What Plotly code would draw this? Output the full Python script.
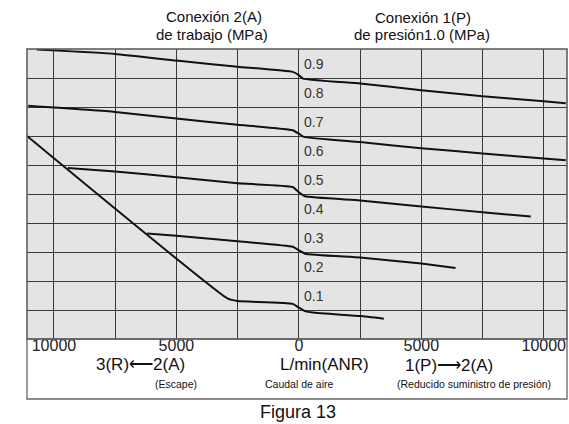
import plotly.graph_objects as go

# ---- data (x: air flow L/min(ANR), negative = exhaust 2(A)->3(R); y: outlet pressure MPa)
set_pressures = ["0.9", "0.7", "0.5", "0.3", "0.1"]

x_09 = [-10700, -7500, -5000, -2500, -250, 0, 170, 2500, 5000, 7500, 10000, 10900]
y_09 = [0.998, 0.983, 0.960, 0.939, 0.921, 0.910, 0.898, 0.881, 0.858, 0.837, 0.820, 0.813]

x_07 = [-11050, -7500, -5000, -2500, -250, 0, 200, 2500, 5000, 7500, 10000, 10900]
y_07 = [0.804, 0.783, 0.760, 0.739, 0.720, 0.708, 0.697, 0.679, 0.658, 0.640, 0.622, 0.616]

x_05 = [-9430, -7500, -5000, -2500, -250, 0, 250, 2500, 5000, 7500, 9470]
y_05 = [0.590, 0.578, 0.558, 0.537, 0.524, 0.506, 0.492, 0.478, 0.457, 0.437, 0.422]

x_03 = [-6200, -5000, -2500, -250, 0, 250, 2500, 5000, 6400]
y_03 = [0.364, 0.356, 0.337, 0.318, 0.306, 0.294, 0.281, 0.260, 0.245]

x_01 = [-11100, -2900, -2500, -250, 0, 250, 570, 2500, 3470]
y_01 = [0.700, 0.139, 0.131, 0.121, 0.108, 0.096, 0.091, 0.079, 0.070]

tick_vals = [-10000, -5000, 0, 5000, 10000]
tick_text = ["10000", "5000", "0", "5000", "10000"]
level_labels = ["0.1", "0.2", "0.3", "0.4", "0.5", "0.6", "0.7", "0.8", "0.9"]
level_values = [0.1, 0.2, 0.3, 0.4, 0.5, 0.6, 0.7, 0.8, 0.9]

curves = [(x_09, y_09), (x_07, y_07), (x_05, y_05), (x_03, y_03), (x_01, y_01)]

# ---- layout geometry (pixels)
W, H = 569, 424
L, R, T, B = 27, 567, 49, 339
FONT = "Liberation Sans, Arial, sans-serif"

def px(xp):
    return (xp - L) / (R - L)

def py(yp):
    return (B - yp) / (B - T)

fig = go.Figure()
for name, (xs, ys) in zip(set_pressures, curves):
    fig.add_trace(go.Scatter(x=xs, y=ys, mode="lines", name=name,
                             line=dict(color="#111111", width=2, shape="spline", smoothing=0.4),
                             showlegend=False, hoverinfo="skip"))

annotations = []
for lab, v in zip(level_labels, level_values):
    annotations.append(dict(x=0, y=v + 0.047, xref="x", yref="y", text=lab, showarrow=False,
                            xanchor="left", yanchor="middle", xshift=3,
                            font=dict(family=FONT, size=14, color="#333333")))

def txt(text, xc, yc, size, color="#111111"):
    annotations.append(dict(x=px(xc), y=py(yc), xref="paper", yref="paper", text=text,
                            showarrow=False, xanchor="center", yanchor="middle",
                            font=dict(family=FONT, size=size, color=color)))

txt("Conexión 2(A)", 214, 16, 15)
txt("de trabajo (MPa)", 212, 35, 15)
txt("Conexión 1(P)", 423, 17, 15)
txt("de presión1.0 (MPa)", 422, 35, 15)
txt("3(R)⟵2(A)", 140, 364, 17)
txt("L/min(ANR)", 324, 364, 17)
txt("1(P)⟶2(A)", 449, 365, 17)
txt("(Escape)", 176, 384, 10.5)
txt("Caudal de aire", 299, 384, 10.5)
txt("(Reducido suministro de presión)", 474, 384, 10.5)
txt("Figura 13", 298, 412, 18)

shapes = [
    dict(type="rect", xref="paper", yref="paper", x0=0, x1=1, y0=0, y1=1,
         line=dict(color="#555555", width=1.5)),
    dict(type="rect", xref="paper", yref="paper", x0=0, x1=1, y0=py(399), y1=0,
         line=dict(color="#666666", width=1.3)),
]

fig.update_layout(
    width=W, height=H,
    margin=dict(l=L, r=W - R, t=T, b=H - B),
    paper_bgcolor="white", plot_bgcolor="#e4e4e4",
    font=dict(family=FONT),
    xaxis=dict(range=[-11100, 10950], showgrid=True,
               gridcolor="#3a3a3a", gridwidth=1.3, zeroline=False,
               tickmode="array", tickvals=tick_vals, ticktext=tick_text,
               ticks="", showline=False, ticklabelstandoff=-5,
               tickfont=dict(family=FONT, size=16, color="#222222")),
    yaxis=dict(range=[0, 1.0], dtick=0.1, showgrid=True, gridcolor="#3a3a3a", gridwidth=1.3,
               zeroline=False, showticklabels=False, ticks="", showline=False),
    annotations=annotations, shapes=shapes,
)
# gridlines every 2500 while labels only at 5000 steps: use minor grid
fig.update_xaxes(minor=dict(tickvals=[-7500, -2500, 2500, 7500], showgrid=True,
                            gridcolor="#3a3a3a", gridwidth=1.3, ticks=""))

fig.write_html("out.html", config={"displayModeBar": False},
               post_script="document.body.style.margin='0';document.body.style.overflow='hidden';")
